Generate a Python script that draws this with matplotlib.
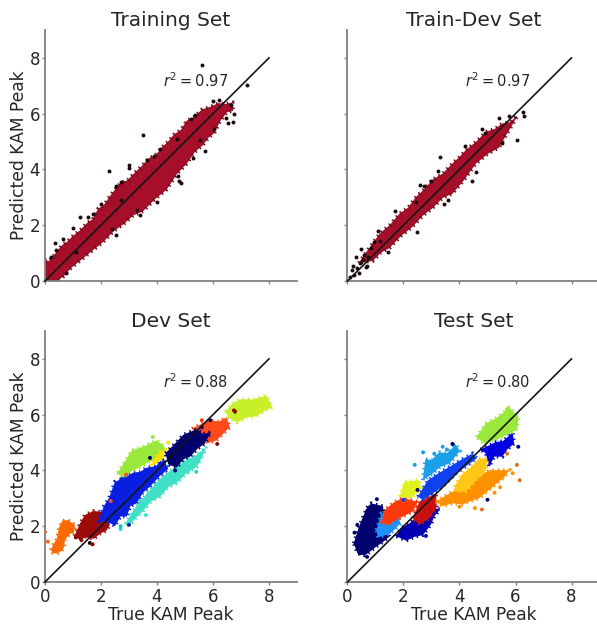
from matplotlib import pyplot as plt

ticks = [0, 2, 4, 6, 8]
titles = ['Training Set', 'Train-Dev Set', 'Dev Set', 'Test Set']
r2_labels = [0.97, 0.97, 0.88, 0.80]

# training set band outline and stray points
train_x = [0, 0.15, 0.3, 0.45, 0.6, 0.8, 1.0, 1.25, 1.5, 1.7, 1.9, 2.1, 2.3, 2.5, 2.7, 2.95, 3.2, 3.45, 3.7, 3.95, 4.2, 4.4, 4.6, 4.85, 5.06, 5.35, 5.6, 5.9, 6.2, 6.45, 6.7,
           6.72, 6.5, 6.25, 6.05, 5.85, 5.65, 5.35, 5.06, 4.7, 4.35, 3.95, 3.5, 3.15, 2.8, 2.45, 2.08, 1.65, 1.25, 0.95, 0.65, 0.42, 0]
train_y = [0.75, 0.72, 0.9, 1.1, 1.28, 1.42, 1.62, 1.82, 2.08, 2.22, 2.6, 2.72, 3.02, 3.28, 3.52, 3.62, 3.88, 4.12, 4.4, 4.52, 4.82, 5.0, 5.25, 5.42, 5.75, 5.9, 6.15, 6.25, 6.38, 6.35, 6.4,
           6.1, 6.05, 5.72, 5.3, 5.15, 4.88, 4.62, 4.2, 3.82, 3.28, 2.95, 2.5, 2.35, 2.03, 1.78, 1.4, 1.05, 0.72, 0.48, 0.15, 0, 0]
train_px = [5.6, 7.2, 3.5, 2.3, 2.7, 2.55, 1.25, 1.0, 0.4, 4.8, 4.85, 4.75, 5.7, 6.55, 6.45, 3.0, 4.7, 5.35, 6.2, 6.0, 5.2, 3.9, 1.7, 0.2, 2.7, 3.0, 5.3, 6.65,
            0.35, 0.65, 1.55, 2.0, 3.65, 4.1, 4.0, 5.55, 6.05, 6.75, 6.7, 3.3, 2.4, 1.1, 3.4, 2.55, 0.75]
train_py = [7.75, 7.03, 5.25, 3.95, 3.55, 3.4, 2.3, 1.9, 1.1, 3.6, 3.5, 3.75, 4.65, 5.65, 5.85, 4.15, 5.1, 5.95, 6.5, 6.45, 5.8, 4.5, 2.4, 0.85, 2.9, 4.05, 4.4, 6.3,
            1.35, 1.5, 2.3, 2.75, 4.35, 4.75, 2.85, 5.05, 5.45, 6.0, 5.7, 2.55, 1.85, 1.05, 2.35, 1.65, 0.3]

# train-dev band outline and stray points
tdev_x = [0.4, 0.75, 1.15, 1.5, 1.86, 2.15, 2.45, 2.75, 3.05, 3.4, 3.75, 4.0, 4.23, 4.6, 4.94, 5.25, 5.53, 5.8, 6.07,
          5.89, 5.65, 5.41, 5.0, 4.58, 4.15, 3.75, 3.4, 3.05, 2.7, 2.33, 1.9, 1.5, 1.2, 0.91]
tdev_y = [0.65, 1.15, 1.7, 2.0, 2.42, 2.62, 3.02, 3.3, 3.65, 3.85, 4.22, 4.45, 4.7, 5.0, 5.35, 5.45, 5.65, 5.7, 5.93,
          5.6, 5.2, 4.78, 4.55, 4.2, 3.6, 3.13, 2.98, 2.62, 2.35, 1.95, 1.6, 1.18, 1.02, 0.72]
tdev_px = [3.3, 6.25, 6.3, 6.05, 4.6, 4.45, 3.0, 2.6, 3.6, 3.45, 2.5, 0.5, 0.15, 0.3, 0.45, 0.6, 0.7, 0.25, 0.35, 0.55, 0.75, 1.15, 1.45, 5.4, 4.9, 2.45, 0.1, 0.85,
           1.1, 1.7, 2.75, 3.25, 4.2, 4.8, 5.5, 5.75, 0.95, 0.2, 0.4, 0.65]
tdev_py = [4.45, 6.07, 5.9, 5.07, 3.9, 3.6, 3.57, 3.45, 2.9, 2.75, 1.75, 1.15, 0.4, 0.85, 0.65, 0.95, 0.55, 0.2, 0.45, 0.75, 0.85, 1.45, 1.05, 5.85, 5.3, 2.85, 0.15, 1.2,
           1.8, 2.5, 3.4, 3.95, 4.85, 5.45, 4.95, 5.9, 1.4, 0.55, 0.3, 0.5]

# dev set clusters
dev_orange_x = [0.2, 0.32, 0.42, 0.5, 0.62, 0.82, 1.07, 1.04, 0.88, 0.71, 0.68, 0.6, 0.42, 0.28]
dev_orange_y = [1.15, 1.38, 1.55, 1.95, 2.2, 2.22, 2.05, 1.78, 1.72, 1.5, 1.25, 1.12, 1.02, 1.05]
dev_darkred_x = [1.05, 1.25, 1.42, 1.73, 2.08, 2.32, 2.2, 1.95, 1.75, 1.45, 1.25]
dev_darkred_y = [1.65, 2.1, 2.4, 2.55, 2.5, 2.05, 1.85, 1.72, 1.55, 1.6, 1.5]
dev_teal_x = [2.86, 3.15, 3.39, 3.75, 4.11, 4.55, 5.06, 5.4, 5.77, 5.6, 5.42, 5.05, 4.7, 4.4, 4.11, 3.8, 3.51, 3.25, 3.0]
dev_teal_y = [2.08, 2.55, 2.88, 3.3, 3.7, 4.05, 4.37, 4.55, 4.85, 4.45, 4.13, 3.9, 3.54, 3.4, 3.06, 2.9, 2.55, 2.3, 2.02]
dev_blue_x = [1.9, 2.1, 2.28, 2.5, 2.78, 3.15, 3.4, 3.63, 3.95, 4.23, 4.4, 4.1, 3.75, 3.5, 3.27, 3.05, 2.92, 2.7, 2.5, 2.2]
dev_blue_y = [2.15, 2.72, 3.0, 3.6, 3.7, 3.92, 3.95, 4.1, 4.15, 4.45, 4.05, 3.8, 3.42, 3.2, 2.82, 2.72, 2.35, 2.35, 2.0, 2.2]
dev_green_x = [2.6, 2.85, 3.1, 3.5, 3.99, 4.28, 4.2, 3.99, 3.7, 3.39, 3.05, 2.75]
dev_green_y = [3.92, 4.32, 4.72, 4.85, 5.08, 4.85, 4.65, 4.37, 4.3, 4.12, 3.95, 3.72]
dev_yellow_x = [3.75, 4.11, 4.29, 4.23, 3.87]
dev_yellow_y = [4.19, 4.67, 4.73, 4.43, 4.19]
dev_red_x = [5.25, 5.55, 5.89, 6.2, 6.49, 6.6, 6.4, 6.13, 5.83, 5.54]
dev_red_y = [5.5, 5.65, 5.8, 5.75, 5.9, 5.55, 5.35, 5.08, 4.98, 5.3]
dev_navy_x = [4.3, 4.6, 4.94, 5.42, 5.65, 5.92, 5.71, 5.45, 5.18, 4.95, 4.7, 4.4]
dev_navy_y = [4.62, 4.92, 5.28, 5.48, 5.3, 5.38, 4.96, 4.78, 4.49, 4.4, 4.1, 4.22]
dev_lime_x = [6.45, 6.7, 6.96, 7.45, 7.92, 8.12, 7.85, 7.56, 7.2, 6.85, 6.55]
dev_lime_y = [6.12, 6.4, 6.55, 6.55, 6.68, 6.25, 6.15, 5.95, 5.9, 5.72, 5.9]
dev_px = [0.1, 0.0, 1.1, 1.6, 1.7, 2.7, 3.85, 3.75, 4.4, 5.6, 6.8, 6.75, 3.4, 2.7, 5.6, 5.9, 5.4, 2.35, 3.6, 3.0, 1.3, 2.6, 2.9, 4.65, 5.1, 6.15, 2.75, 6.9]
dev_py = [1.45, 1.8, 1.6, 1.4, 1.35, 1.9, 5.2, 4.45, 5.0, 5.8, 6.1, 6.15, 2.9, 2.0, 5.55, 5.8, 3.95, 2.9, 2.4, 2.05, 1.5, 3.4, 3.85, 4.0, 3.95, 4.95, 3.7, 6.05]
dev_pc = ['#ff6a00', '#ff6a00', '#8b0000', '#200000', '#8b0000', '#30d0d0', '#9be83c', '#00006e', '#ffe000', '#ff3010', '#8b0000', '#8b0000', '#3fe0c5', '#00c8c8', '#00006e', '#00006e', '#30d0b0', '#ff4a1a', '#3fe0c5', '#1020a0', '#8b0000', '#0a1ee0', '#ff4a1a', '#00006e', '#3fe0c5', '#8b0000', '#0a1ee0', '#c8f02a']

# test set clusters
test_navy_x = [0.22, 0.4, 0.56, 0.72, 0.85, 1.27, 1.3, 1.27, 1.5, 1.25, 1.03, 0.75, 0.62, 0.36]
test_navy_y = [1.39, 1.95, 2.35, 2.7, 2.82, 2.72, 2.35, 2.11, 1.63, 1.42, 1.27, 1.05, 0.95, 1.02]
test_azure_x = [1.03, 1.21, 1.74, 1.9, 1.7, 1.5, 1.09]
test_azure_y = [1.87, 2.46, 2.46, 2.11, 1.9, 1.72, 1.6]
test_lowblue_x = [1.72, 1.95, 2.22, 2.55, 2.93, 3.3, 3.1, 2.99, 2.7, 2.4, 2.1]
test_lowblue_y = [1.65, 1.95, 2.11, 2.42, 2.7, 2.6, 2.35, 2.08, 1.68, 1.62, 1.48]
test_red_x = [1.21, 1.33, 1.65, 1.98, 2.51, 2.33, 1.86, 1.45]
test_red_y = [2.11, 2.58, 2.85, 3.02, 2.88, 2.52, 2.29, 2.05]
test_darkred_x = [2.33, 2.57, 3.16, 3.19, 2.93, 2.57]
test_darkred_y = [2.29, 2.88, 3.18, 2.7, 2.29, 2.05]
test_yellow_x = [1.86, 2.04, 2.57, 2.63, 2.27]
test_yellow_y = [3.06, 3.6, 3.65, 3.36, 3.0]
test_sky_x = [2.69, 2.78, 3.0, 3.28, 3.55, 3.87, 4.02, 3.64, 3.3, 3.05]
test_sky_y = [3.65, 4.4, 4.38, 4.65, 4.62, 4.92, 4.7, 4.25, 4.12, 3.89]
test_blue_x = [2.51, 2.87, 3.25, 3.64, 4.05, 4.47, 4.62, 3.87, 3.4, 3.05, 2.7]
test_blue_y = [3.06, 3.65, 3.9, 4.13, 4.38, 4.61, 4.43, 3.89, 3.42, 3.18, 2.94]
test_upblue_x = [4.75, 5.3, 5.55, 5.9, 5.95, 5.7, 5.53, 5.25, 5.06, 4.94]
test_upblue_y = [4.75, 5.02, 5.05, 5.36, 4.96, 4.75, 4.49, 4.5, 4.13, 4.61]
test_green_x = [4.6, 4.94, 5.35, 5.77, 6.1, 6.07, 6.01, 5.41, 4.88]
test_green_y = [5.2, 5.68, 5.9, 6.25, 5.95, 5.5, 5.44, 5.14, 4.96]
test_orange_x = [3.16, 3.64, 4.11, 4.6, 5.06, 5.77, 5.6, 5.41, 4.7, 4.4, 4.11, 3.75, 3.4]
test_orange_y = [2.88, 3.18, 3.42, 3.68, 4.01, 4.01, 3.75, 3.6, 3.0, 2.9, 2.78, 2.82, 2.72]
test_gold_x = [3.82, 4.11, 4.4, 4.7, 5.0, 4.94, 4.55, 4.23, 3.87]
test_gold_y = [3.42, 3.89, 4.1, 4.43, 4.42, 4.01, 3.6, 3.24, 3.24]
test_px = [0.25, 0.45, 0.7, 1.05, 0.35, 0.7, 2.4, 2.5, 3.8, 3.75, 6.1, 6.15, 5.7, 5.9, 5.0, 4.8, 4.0, 2.8, 5.7, 5.0, 6.05, 2.7, 3.1, 3.4, 3.55, 5.45, 5.25, 4.55, 2.0]
test_py = [1.77, 1.03, 0.9, 2.97, 2.05, 2.55, 4.2, 3.3, 4.9, 4.95, 4.85, 3.65, 4.6, 3.9, 2.95, 2.6, 2.7, 1.65, 6.2, 5.6, 4.2, 4.65, 4.6, 4.85, 4.75, 3.4, 3.2, 2.65, 2.95]
test_pc = ['#00006e', '#00006e', '#00006e', '#00006e', '#00006e', '#00006e', '#1aa0e8', '#00006e', '#1aa0e8', '#00006e', '#0000a0', '#e07020', '#e07020', '#ff9000', '#00006e', '#e07020', '#ff9000', '#0000a0', '#9be83c', '#9be83c', '#e07020', '#1aa0e8', '#1aa0e8', '#1aa0e8', '#1aa0e8', '#ff9000', '#ff9000', '#ff9000', '#1040f0']

dev_clusters = [(dev_orange_x, dev_orange_y, '#ff6a00'), (dev_darkred_x, dev_darkred_y, '#9c0a0a'),
                (dev_teal_x, dev_teal_y, '#3fe0c5'), (dev_blue_x, dev_blue_y, '#0a1ee0'),
                (dev_green_x, dev_green_y, '#9be83c'), (dev_yellow_x, dev_yellow_y, '#ffe000'),
                (dev_red_x, dev_red_y, '#ff4a1a'), (dev_navy_x, dev_navy_y, '#00006e'),
                (dev_lime_x, dev_lime_y, '#c8f02a')]
test_clusters = [(test_navy_x, test_navy_y, '#00006e'), (test_azure_x, test_azure_y, '#1e90ff'),
                 (test_lowblue_x, test_lowblue_y, '#0000b0'), (test_red_x, test_red_y, '#ff3a0a'),
                 (test_darkred_x, test_darkred_y, '#c81010'), (test_yellow_x, test_yellow_y, '#e0f020'),
                 (test_sky_x, test_sky_y, '#1aa0e8'), (test_blue_x, test_blue_y, '#1040f0'),
                 (test_upblue_x, test_upblue_y, '#0000e0'), (test_green_x, test_green_y, '#9be83c'),
                 (test_orange_x, test_orange_y, '#ff9000'), (test_gold_x, test_gold_y, '#ffc814')]

W, H = 597, 626
fig = plt.figure(figsize=(W / 100, H / 100), dpi=100)

# axes boxes in pixels: left, top edge, bottom edge
boxes = [(45, 30, 281), (347.5, 30, 281), (45, 331, 582), (347.5, 331, 582)]
axes = []
for (left, top, bottom), title, r2 in zip(boxes, titles, r2_labels):
    ax = fig.add_axes([left / W, 1 - bottom / H, 252 / W, (bottom - top) / H])
    ax.set_xlim(0, 9)
    ax.set_ylim(0, 9)
    ax.set_xticks(ticks)
    ax.set_yticks(ticks)
    for s in ['top', 'right']:
        ax.spines[s].set_visible(False)
    for s in ['left', 'bottom']:
        ax.spines[s].set_color('#808080')
        ax.spines[s].set_linewidth(1.3)
    ax.tick_params(colors='#808080', labelcolor='#262626', length=2.5, width=1, labelsize=12, pad=2)
    ax.tick_params(axis='y', pad=1)
    ax.set_title(title, fontsize=14.5, color='#262626', pad=3)
    ax.text(4.2, 7.2, r'$r^2 = %.2f$' % r2, fontsize=10.5, color='#262626', va='center',
            math_fontfamily='dejavusans')
    axes.append(ax)

def blob(ax, x, y, color, dot=None):
    ax.fill(x, y, facecolor=color, edgecolor=dot or color, lw=2.6, ls=(0, (0.4, 1.1)), zorder=2)

blob(axes[0], train_x, train_y, '#a50f2a', '#6a0c1c')
axes[0].scatter(train_px, train_py, s=8, color='#1c0a0c', lw=0, zorder=3)
blob(axes[1], tdev_x, tdev_y, '#a50f2a', '#6a0c1c')
axes[1].scatter(tdev_px, tdev_py, s=8, color='#1c0a0c', lw=0, zorder=3)
for x, y, c in dev_clusters:
    blob(axes[2], x, y, c)
axes[2].scatter(dev_px, dev_py, s=8, c=dev_pc, lw=0, zorder=3)
for x, y, c in test_clusters:
    blob(axes[3], x, y, c)
axes[3].scatter(test_px, test_py, s=8, c=test_pc, lw=0, zorder=3)

for ax in axes:
    ax.plot([0, 8], [0, 8], color='#151515', lw=1.2, zorder=4, clip_on=False)

axes[0].tick_params(labelbottom=False)
axes[1].tick_params(labelbottom=False, labelleft=False)
axes[3].tick_params(labelleft=False)
axes[0].set_ylabel('Predicted KAM Peak', fontsize=12.3, color='#262626', labelpad=1)
axes[2].set_ylabel('Predicted KAM Peak', fontsize=12.3, color='#262626', labelpad=1)
axes[2].set_xlabel('True KAM Peak', fontsize=12.3, color='#262626', labelpad=0)
axes[3].set_xlabel('True KAM Peak', fontsize=12.3, color='#262626', labelpad=0)

fig.savefig('out.png', dpi=100)
